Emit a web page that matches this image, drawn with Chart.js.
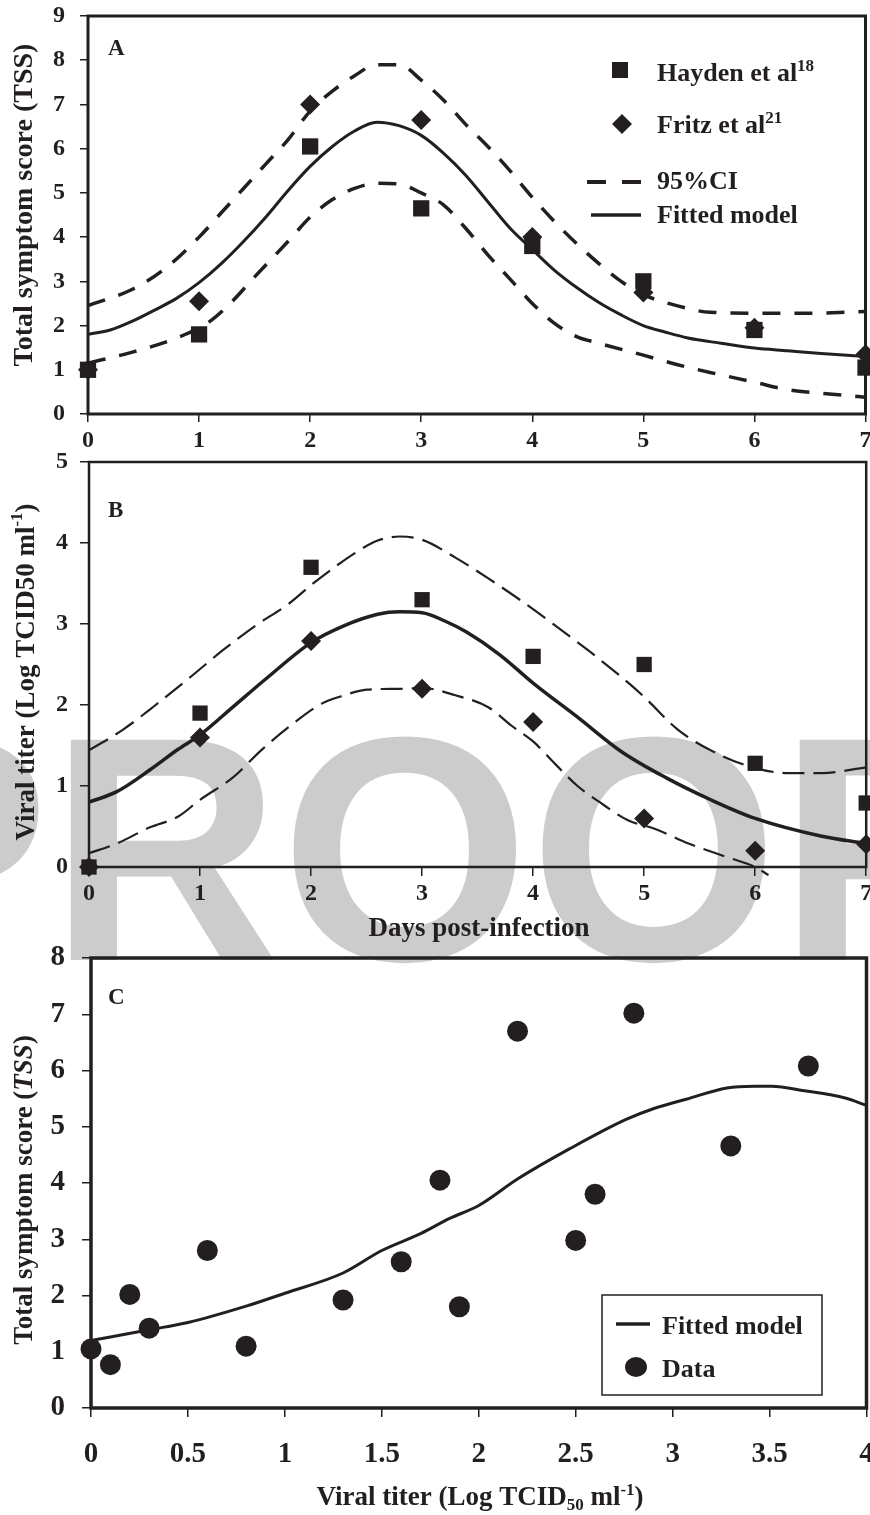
<!DOCTYPE html>
<html>
<head>
<meta charset="utf-8">
<script src="https://cdn.jsdelivr.net/npm/chart.js@4.4.1/dist/chart.umd.min.js"></script>
<style>
  html, body { margin: 0; padding: 0; background: #fff; }
  #page { position: relative; width: 870px; height: 1515px; overflow: hidden; }
  #proof { position: absolute; left: -164px; top: 689px; font: bold 320px "Liberation Sans", Arial, sans-serif;
           line-height: 320px; color: #cccccc; white-space: nowrap; z-index: 0; }
  canvas { position: absolute; left: 0; z-index: 1; }
</style>
</head>
<body>
<div id="page">
  <div id="proof">PROOF</div>
  <canvas id="chartA" width="877" height="460" style="top:0px"></canvas>
  <canvas id="chartB" width="877" height="500" style="top:450px"></canvas>
  <canvas id="chartC" width="877" height="575" style="top:940px"></canvas>
</div>
<script>
const INK = '#231f20';
const SERIF = '"Liberation Serif", "Times New Roman", serif';

// tick labels
const aXTicks = [0, 1, 2, 3, 4, 5, 6, 7];
const aYTicks = [0, 1, 2, 3, 4, 5, 6, 7, 8, 9];
const bYTicks = [0, 1, 2, 3, 4, 5];
const cXTicks = [0, 0.5, 1, 1.5, 2, 2.5, 3, 3.5, 4];
const cYTicks = [0, 1, 2, 3, 4, 5, 6, 7, 8];

// observed days
const days = [0, 1, 2, 3, 4, 5, 6, 7];

// Panel A - total symptom score
const haydenTSS = [1.0, 1.8, 6.05, 4.65, 3.8, 3.0, 1.9, 1.05];
const fritzTSS = [1.0, 2.55, 7.0, 6.65, 4.0, 2.75, 1.95, 1.35];
const fitAx = [0, 0.2, 0.4, 0.6, 0.8, 1, 1.2, 1.4, 1.6, 1.8, 2, 2.2, 2.4, 2.6, 2.8, 3, 3.2, 3.4, 3.6, 3.8, 4, 4.2, 4.4, 4.6, 4.8, 5, 5.2, 5.4, 5.7, 6, 6.3, 6.6, 7];
const fitAy = [1.8, 1.9, 2.1, 2.35, 2.62, 2.97, 3.4, 3.9, 4.45, 5.05, 5.6, 6.05, 6.4, 6.6, 6.52, 6.3, 5.9, 5.4, 4.8, 4.2, 3.72, 3.25, 2.86, 2.52, 2.24, 2.0, 1.85, 1.72, 1.6, 1.49, 1.43, 1.37, 1.3];
const upAx = [0, 0.4, 0.7, 1, 1.2, 1.4, 1.6, 1.8, 2, 2.2, 2.4, 2.6, 2.8, 3, 3.2, 3.4, 3.6, 3.8, 4, 4.2, 4.4, 4.6, 4.8, 5, 5.3, 5.6, 6, 6.5, 7];
const upAy = [2.45, 2.82, 3.3, 4.0, 4.55, 5.1, 5.65, 6.2, 6.85, 7.3, 7.65, 7.9, 7.9, 7.55, 7.1, 6.55, 6.05, 5.5, 4.9, 4.35, 3.85, 3.4, 3.0, 2.7, 2.45, 2.3, 2.28, 2.28, 2.32];
const loAx = [0, 0.4, 0.8, 1.1, 1.3, 1.5, 1.8, 2, 2.2, 2.4, 2.6, 2.8, 3, 3.2, 3.4, 3.6, 3.8, 4, 4.2, 4.4, 4.6, 5, 5.3, 5.6, 6, 6.3, 6.6, 7];
const loAy = [1.15, 1.4, 1.72, 2.1, 2.55, 3.1, 3.9, 4.45, 4.85, 5.1, 5.22, 5.2, 5.0, 4.73, 4.2, 3.6, 3.05, 2.5, 2.05, 1.75, 1.6, 1.33, 1.12, 0.94, 0.72, 0.55, 0.47, 0.38];

// Panel B - viral titer
const haydenTiter = [0.0, 1.9, 3.7, 3.3, 2.6, 2.5, 1.28, 0.79];
const fritzTiter = [0.0, 1.6, 2.79, 2.2, 1.79, 0.6, 0.2, 0.28];
const fitBx = [0, 0.25, 0.55, 0.8, 1, 1.3, 1.6, 2, 2.3, 2.6, 2.8, 3, 3.2, 3.4, 3.7, 4, 4.4, 4.8, 5.2, 5.6, 6, 6.6, 7];
const fitBy = [0.8, 0.93, 1.2, 1.45, 1.63, 1.98, 2.33, 2.77, 2.98, 3.12, 3.15, 3.14, 3.04, 2.9, 2.62, 2.27, 1.85, 1.42, 1.1, 0.83, 0.6, 0.38, 0.29];
const upBx = [0, 0.3, 0.6, 0.9, 1.2, 1.5, 1.8, 2, 2.2, 2.4, 2.6, 2.8, 3, 3.3, 3.6, 3.9, 4.2, 4.5, 4.8, 5, 5.3, 5.6, 6, 6.3, 6.6, 7];
const upBy = [1.44, 1.69, 2.0, 2.33, 2.67, 2.98, 3.25, 3.48, 3.69, 3.88, 4.03, 4.08, 4.04, 3.82, 3.56, 3.28, 2.98, 2.67, 2.34, 2.1, 1.7, 1.44, 1.22, 1.16, 1.16, 1.23];
const loBx = [0, 0.25, 0.55, 0.8, 1, 1.3, 1.55, 1.8, 2.1, 2.3, 2.5, 2.8, 3, 3.3, 3.6, 3.8, 4, 4.2, 4.4, 4.6, 4.85, 5.1, 5.4, 5.75, 6, 6.12];
const loBy = [0.17, 0.29, 0.49, 0.62, 0.83, 1.11, 1.44, 1.73, 2.02, 2.12, 2.19, 2.2, 2.21, 2.12, 1.97, 1.75, 1.55, 1.27, 1.0, 0.8, 0.58, 0.47, 0.29, 0.12, 0.0, -0.1];

// Panel C - TSS vs viral titer
const titerObs = [0, 0.1, 0.2, 0.3, 0.6, 0.8, 1.3, 1.6, 1.8, 1.9, 2.2, 2.5, 2.6, 2.8, 3.3, 3.7];
const tssObs = [1.05, 0.77, 2.02, 1.42, 2.8, 1.1, 1.92, 2.6, 4.05, 1.8, 6.7, 2.98, 3.8, 7.02, 4.66, 6.08];
const fitCx = [0, 0.3, 0.5, 0.8, 1, 1.3, 1.5, 1.7, 1.85, 2, 2.2, 2.47, 2.76, 2.9, 3.07, 3.28, 3.42, 3.51, 3.68, 3.89, 4];
const fitCy = [1.2, 1.39, 1.52, 1.81, 2.04, 2.4, 2.8, 3.1, 3.37, 3.6, 4.07, 4.61, 5.13, 5.32, 5.49, 5.69, 5.72, 5.72, 5.64, 5.51, 5.38];

function pts(xs, ys) {
    return xs.map((x, i) => ({ x: x, y: ys[i] }));
}

function bold(size) { return 'bold ' + size + 'px ' + SERIF; }
function boldItalic(size) { return 'italic bold ' + size + 'px ' + SERIF; }

// draw a row of text pieces (for super/subscripts)
function drawRich(ctx, parts, x, y, align) {
    let w = 0;
    parts.forEach(p => { ctx.font = p[1]; w += ctx.measureText(p[0]).width; });
    let cx = align === 'center' ? x - w / 2 : x;
    ctx.textAlign = 'left';
    parts.forEach(p => {
        ctx.font = p[1];
        ctx.fillText(p[0], cx, y + (p[2] || 0));
        cx += ctx.measureText(p[0]).width;
    });
}

function axes(o) {
    return {
        x: {
            type: 'linear', min: o.xmin, max: o.xmax,
            afterBuildTicks(s) { s.ticks = o.xticks.map(v => ({ value: v })); },
            afterFit(s) { s.height = o.xh; s.paddingLeft = 0; s.paddingRight = 0; },
            ticks: { font: { family: SERIF, size: o.font, weight: 'bold' }, color: INK, padding: o.xpad,
                     maxRotation: 0, autoSkip: false, callback: v => String(v) },
            grid: { drawOnChartArea: false, drawTicks: true, tickLength: o.tick, color: INK, lineWidth: 1.5 },
            border: { display: false }
        },
        y: {
            type: 'linear', min: o.ymin, max: o.ymax,
            afterBuildTicks(s) { s.ticks = o.yticks.map(v => ({ value: v })); },
            afterFit(s) { s.width = o.yw; s.paddingTop = 0; s.paddingBottom = 0; },
            ticks: { font: { family: SERIF, size: o.font, weight: 'bold' }, color: INK, padding: o.ypad,
                     autoSkip: false, callback: v => String(v) },
            grid: { drawOnChartArea: false, drawTicks: true, tickLength: o.tick, color: INK, lineWidth: 1.5 },
            border: { display: false }
        }
    };
}

// frame around the plot area plus the extra texts
function extrasPlugin(offsetY, frameWidth, drawFn) {
    return {
        id: 'extras',
        beforeDatasetsDraw(chart) {
            const a = chart.chartArea;
            const ctx = chart.ctx;
            ctx.save();
            ctx.strokeStyle = INK;
            ctx.lineWidth = frameWidth;
            ctx.strokeRect(a.left, a.top, a.right - a.left, a.bottom - a.top);
            ctx.restore();
        },
        afterDraw(chart) {
            const ctx = chart.ctx;
            ctx.save();
            ctx.translate(0, -offsetY);
            ctx.fillStyle = INK;
            ctx.strokeStyle = INK;
            ctx.textBaseline = 'alphabetic';
            drawFn(ctx);
            ctx.restore();
        }
    };
}

function markerSet(label, data, style, radius) {
    return { label: label, data: data, pointStyle: style, pointRadius: radius, pointHoverRadius: radius,
             backgroundColor: INK, borderColor: INK, borderWidth: 0, showLine: false, clip: false };
}
function lineSet(label, data, width, dash) {
    return { label: label, data: data, showLine: true, pointRadius: 0, borderColor: INK, borderWidth: width,
             borderDash: dash || [], cubicInterpolationMode: 'monotone', clip: false };
}

const baseOptions = {
    responsive: false,
    animation: false,
    events: [],
    plugins: { legend: { display: false }, tooltip: { enabled: false } }
};

// ---- Panel A
new Chart(document.getElementById('chartA'), {
    type: 'scatter',
    data: {
        datasets: [
            markerSet('Hayden et al', pts(days, haydenTSS), 'rect', 11.5),
            markerSet('Fritz et al', pts(days, fritzTSS), 'rectRot', 10),
            lineSet('Fitted model', pts(fitAx, fitAy), 3),
            lineSet('95%CI upper', pts(upAx, upAy), 3.5, [18, 14]),
            lineSet('95%CI lower', pts(loAx, loAy), 3.5, [18, 14])
        ]
    },
    options: Object.assign({}, baseOptions, {
        layout: { padding: { top: 16, right: 5, left: 0, bottom: 0 } },
        scales: axes({ xmin: 0, xmax: 7, ymin: 0, ymax: 9, xticks: aXTicks, yticks: aYTicks,
                       xh: 46, yw: 88, font: 24, tick: 8, xpad: 4, ypad: 15 })
    }),
    plugins: [extrasPlugin(0, 3, ctx => {
        ctx.font = bold(23);
        ctx.fillText('A', 108, 55);
        // y title
        ctx.save();
        ctx.translate(25, 205);
        ctx.rotate(-Math.PI / 2);
        ctx.textBaseline = 'middle';
        drawRich(ctx, [['Total symptom score (TSS)', bold(28)]], 0, 0, 'center');
        ctx.restore();
        // legend
        ctx.fillRect(612, 62, 16, 16);
        ctx.beginPath();
        ctx.moveTo(622, 114); ctx.lineTo(632, 124); ctx.lineTo(622, 134); ctx.lineTo(612, 124);
        ctx.closePath(); ctx.fill();
        ctx.lineWidth = 4;
        ctx.beginPath();
        ctx.moveTo(587, 182); ctx.lineTo(606, 182);
        ctx.moveTo(622, 182); ctx.lineTo(641, 182);
        ctx.stroke();
        ctx.lineWidth = 3.5;
        ctx.beginPath();
        ctx.moveTo(591, 215); ctx.lineTo(641, 215);
        ctx.stroke();
        drawRich(ctx, [['Hayden et al', bold(26)], ['18', bold(17), -10]], 657, 81);
        drawRich(ctx, [['Fritz et al', bold(26)], ['21', bold(17), -10]], 657, 133);
        drawRich(ctx, [['95%CI', bold(26)]], 657, 189);
        drawRich(ctx, [['Fitted model', bold(26)]], 657, 223);
    })]
});

// ---- Panel B
new Chart(document.getElementById('chartB'), {
    type: 'scatter',
    data: {
        datasets: [
            markerSet('Hayden et al', pts(days, haydenTiter), 'rect', 10.8),
            markerSet('Fritz et al', pts(days, fritzTiter), 'rectRot', 10),
            lineSet('Fitted model', pts(fitBx, fitBy), 3.5),
            lineSet('95%CI upper', pts(upBx, upBy), 2.2, [22, 9]),
            lineSet('95%CI lower', pts(loBx, loBy), 2.2, [22, 9])
        ]
    },
    options: Object.assign({}, baseOptions, {
        layout: { padding: { top: 12, right: 4, left: 0, bottom: 0 } },
        scales: axes({ xmin: 0, xmax: 7, ymin: 0, ymax: 5, xticks: aXTicks, yticks: bYTicks,
                       xh: 83, yw: 89, font: 24, tick: 9, xpad: 3, ypad: 12 })
    }),
    plugins: [extrasPlugin(450, 2.5, ctx => {
        ctx.font = bold(23);
        ctx.fillText('B', 108, 517);
        ctx.save();
        ctx.translate(27, 672);
        ctx.rotate(-Math.PI / 2);
        ctx.textBaseline = 'middle';
        drawRich(ctx, [['Viral titer (Log TCID50 ml', bold(27)], ['-1', bold(17), -9], [')', bold(27)]], 0, 0, 'center');
        ctx.restore();
        drawRich(ctx, [['Days post-infection', bold(27)]], 479, 936, 'center');
    })]
});

// ---- Panel C
new Chart(document.getElementById('chartC'), {
    type: 'scatter',
    data: {
        datasets: [
            markerSet('Data', pts(titerObs, tssObs), 'circle', 10.5),
            lineSet('Fitted model', pts(fitCx, fitCy), 3)
        ]
    },
    options: Object.assign({}, baseOptions, {
        layout: { padding: { top: 18, right: 5, left: 0, bottom: 0 } },
        scales: axes({ xmin: 0, xmax: 4, ymin: 0, ymax: 8, xticks: cXTicks, yticks: cYTicks,
                       xh: 107, yw: 91, font: 29, tick: 9, xpad: 20, ypad: 17 })
    }),
    plugins: [extrasPlugin(940, 3.5, ctx => {
        ctx.font = bold(23);
        ctx.fillText('C', 108, 1004);
        ctx.save();
        ctx.translate(25, 1190);
        ctx.rotate(-Math.PI / 2);
        ctx.textBaseline = 'middle';
        drawRich(ctx, [['Total symptom score (', bold(27)], ['TSS', boldItalic(27)], [')', bold(27)]], 0, 0, 'center');
        ctx.restore();
        drawRich(ctx, [['Viral titer (Log TCID', bold(27)], ['50', bold(17), 5], [' ml', bold(27)],
                       ['-1', bold(17), -10], [')', bold(27)]], 480, 1505, 'center');
        // legend box
        ctx.lineWidth = 1.5;
        ctx.strokeRect(602, 1295, 220, 100);
        ctx.lineWidth = 3.5;
        ctx.beginPath();
        ctx.moveTo(616, 1324); ctx.lineTo(650, 1324);
        ctx.stroke();
        ctx.beginPath();
        ctx.ellipse(636, 1367, 11, 10, 0, 0, Math.PI * 2);
        ctx.fill();
        drawRich(ctx, [['Fitted model', bold(26)]], 662, 1334);
        drawRich(ctx, [['Data', bold(26)]], 662, 1377);
    })]
});
</script>
</body>
</html>
